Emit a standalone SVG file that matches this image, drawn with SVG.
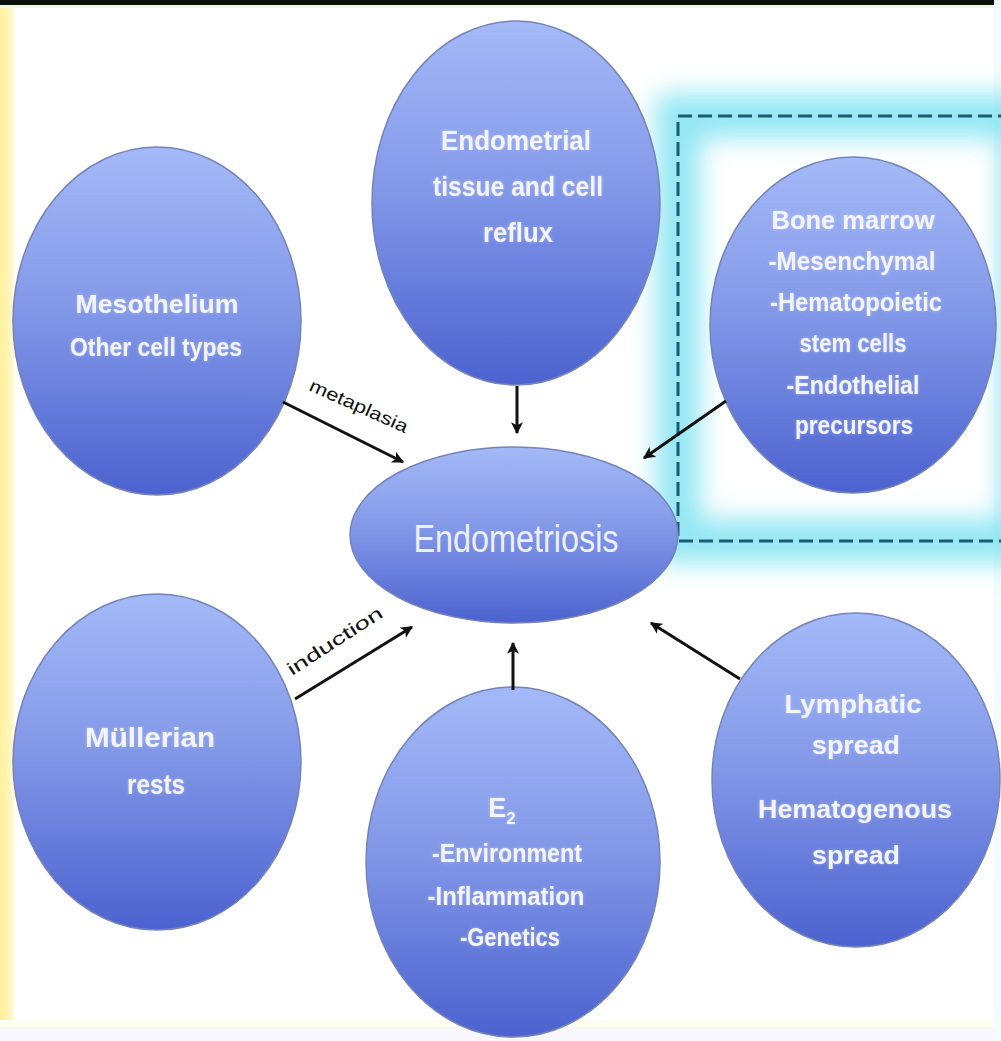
<svg xmlns="http://www.w3.org/2000/svg" width="1001" height="1041" viewBox="0 0 1001 1041">
<defs>
<linearGradient id="gBlue" x1="0" y1="0" x2="0" y2="1">
<stop offset="0" stop-color="#a4b9f7"/>
<stop offset="0.45" stop-color="#8399e8"/>
<stop offset="1" stop-color="#4c62cf"/>
</linearGradient>
<linearGradient id="gYel" x1="0" y1="0" x2="1" y2="0">
<stop offset="0" stop-color="#fff19a"/>
<stop offset="0.7" stop-color="#fff6c4"/>
<stop offset="1" stop-color="#ffffff"/>
</linearGradient>
<filter id="blur" x="-25%" y="-25%" width="150%" height="150%">
<feGaussianBlur stdDeviation="13"/>
</filter>
<filter id="tglow" x="-10%" y="-30%" width="120%" height="160%">
<feGaussianBlur in="SourceAlpha" stdDeviation="1.5" result="b"/>
<feFlood flood-color="#ffffff" flood-opacity="0.35"/>
<feComposite in2="b" operator="in" result="g"/>
<feMerge><feMergeNode in="g"/><feMergeNode in="SourceGraphic"/></feMerge>
</filter>
<marker id="arr" viewBox="0 0 10 10" refX="9" refY="5" markerWidth="4" markerHeight="4" orient="auto" markerUnits="strokeWidth">
<path d="M0,0 L10,5 L0,10 L2.5,5 Z" fill="#111"/>
</marker>
</defs>
<style>
.node ellipse{fill:url(#gBlue);stroke:#7583b8;stroke-width:1.5}
.lbl{font-family:"Liberation Sans Narrow","Liberation Sans",Arial,sans-serif;font-weight:bold;fill:#f3f4ff;text-anchor:middle;filter:url(#tglow)}
.big{font-family:"Liberation Sans Narrow","Liberation Sans",Arial,sans-serif;fill:#eef0ff;text-anchor:middle;font-size:38px}
.edge{stroke:#111;stroke-width:3;fill:none;marker-end:url(#arr)}
.elbl{font-family:"Liberation Sans Narrow","Liberation Sans",Arial,sans-serif;fill:#111;font-size:18px}
</style>
<rect width="1001" height="1041" fill="#ffffff"/>
<rect x="0" y="0" width="16" height="1041" fill="url(#gYel)"/>
<rect x="0" y="0" width="1001" height="5" fill="#0b0f0a"/>
<rect x="0" y="5" width="1001" height="3" fill="#eef5e4"/>
<rect x="0" y="1020" width="1001" height="7" fill="#fdfdf0"/>
<rect x="0" y="1027" width="1001" height="14" fill="#f7f7fd"/>
<rect x="994" y="0" width="7" height="1041" fill="#f2fbfd"/>

<g id="highlight">
<rect x="678" y="116" width="345" height="425" fill="none" stroke="#86e4f2" stroke-opacity="0.9" stroke-width="44" filter="url(#blur)"/>
<rect x="678" y="116" width="345" height="425" fill="none" stroke="#1b5b74" stroke-width="3" stroke-dasharray="14 6"/>
</g>

<g id="node-reflux" class="node">
<ellipse cx="516" cy="203" rx="144" ry="182"/>
<text class="lbl" font-size="28"><tspan x="516" y="150" textLength="150" lengthAdjust="spacingAndGlyphs">Endometrial</tspan><tspan x="518" y="196" textLength="170" lengthAdjust="spacingAndGlyphs">tissue and cell</tspan><tspan x="518" y="242" textLength="70" lengthAdjust="spacingAndGlyphs">reflux</tspan></text>
</g>

<g id="node-mesothelium" class="node">
<ellipse cx="157" cy="321" rx="144" ry="174"/>
<text class="lbl" font-size="26"><tspan x="157" y="313" textLength="163" lengthAdjust="spacingAndGlyphs">Mesothelium</tspan><tspan x="156" y="356" textLength="172" lengthAdjust="spacingAndGlyphs">Other cell types</tspan></text>
</g>

<g id="node-bonemarrow" class="node">
<ellipse cx="853" cy="325" rx="143" ry="168"/>
<text class="lbl" font-size="25"><tspan x="853" y="229" textLength="163" lengthAdjust="spacingAndGlyphs">Bone marrow</tspan><tspan x="852" y="270" textLength="167" lengthAdjust="spacingAndGlyphs">-Mesenchymal</tspan><tspan x="856" y="311" textLength="172" lengthAdjust="spacingAndGlyphs">-Hematopoietic</tspan><tspan x="853" y="352" textLength="107" lengthAdjust="spacingAndGlyphs">stem cells</tspan><tspan x="853" y="394" textLength="133" lengthAdjust="spacingAndGlyphs">-Endothelial</tspan><tspan x="854" y="434" textLength="118" lengthAdjust="spacingAndGlyphs">precursors</tspan></text>
</g>

<g id="node-endometriosis" class="node">
<ellipse cx="514" cy="535" rx="164" ry="88"/>
<text class="big" x="516" y="552" textLength="205" lengthAdjust="spacingAndGlyphs">Endometriosis</text>
</g>

<g id="node-mullerian" class="node">
<ellipse cx="157" cy="762" rx="144" ry="168"/>
<text class="lbl" font-size="27"><tspan x="150" y="747" textLength="130" lengthAdjust="spacingAndGlyphs">Müllerian</tspan><tspan x="156" y="794" textLength="58" lengthAdjust="spacingAndGlyphs">rests</tspan></text>
</g>

<g id="node-e2" class="node">
<ellipse cx="513" cy="862" rx="147" ry="175"/>
<text class="lbl" font-size="27" x="502" y="817">E<tspan font-size="17" dy="7">2</tspan></text>
<text class="lbl" font-size="25"><tspan x="507" y="862" textLength="150" lengthAdjust="spacingAndGlyphs">-Environment</tspan><tspan x="506" y="905" textLength="157" lengthAdjust="spacingAndGlyphs">-Inflammation</tspan><tspan x="510" y="946" textLength="100" lengthAdjust="spacingAndGlyphs">-Genetics</tspan></text>
</g>

<g id="node-lymphatic" class="node">
<ellipse cx="856" cy="780" rx="144" ry="167"/>
<text class="lbl" font-size="26"><tspan x="853" y="713" textLength="137" lengthAdjust="spacingAndGlyphs">Lymphatic</tspan><tspan x="856" y="754" textLength="88" lengthAdjust="spacingAndGlyphs">spread</tspan><tspan x="855" y="818" textLength="194" lengthAdjust="spacingAndGlyphs">Hematogenous</tspan><tspan x="856" y="864" textLength="88" lengthAdjust="spacingAndGlyphs">spread</tspan></text>
</g>

<g id="connectors">
<line class="edge" x1="517" y1="386" x2="517" y2="433"/>
<line class="edge" x1="283" y1="402" x2="403" y2="462"/>
<line class="edge" x1="726" y1="401" x2="644" y2="458"/>
<line class="edge" x1="295" y1="699" x2="412" y2="627"/>
<line class="edge" x1="513" y1="690" x2="513" y2="643"/>
<line class="edge" x1="740" y1="679" x2="651" y2="623"/>
<text class="elbl" transform="translate(308,390) rotate(24)" textLength="106" lengthAdjust="spacingAndGlyphs">metaplasia</text>
<text class="elbl" font-size="22" transform="translate(292,676) rotate(-33)" textLength="110" lengthAdjust="spacingAndGlyphs">induction</text>
</g>
</svg>
